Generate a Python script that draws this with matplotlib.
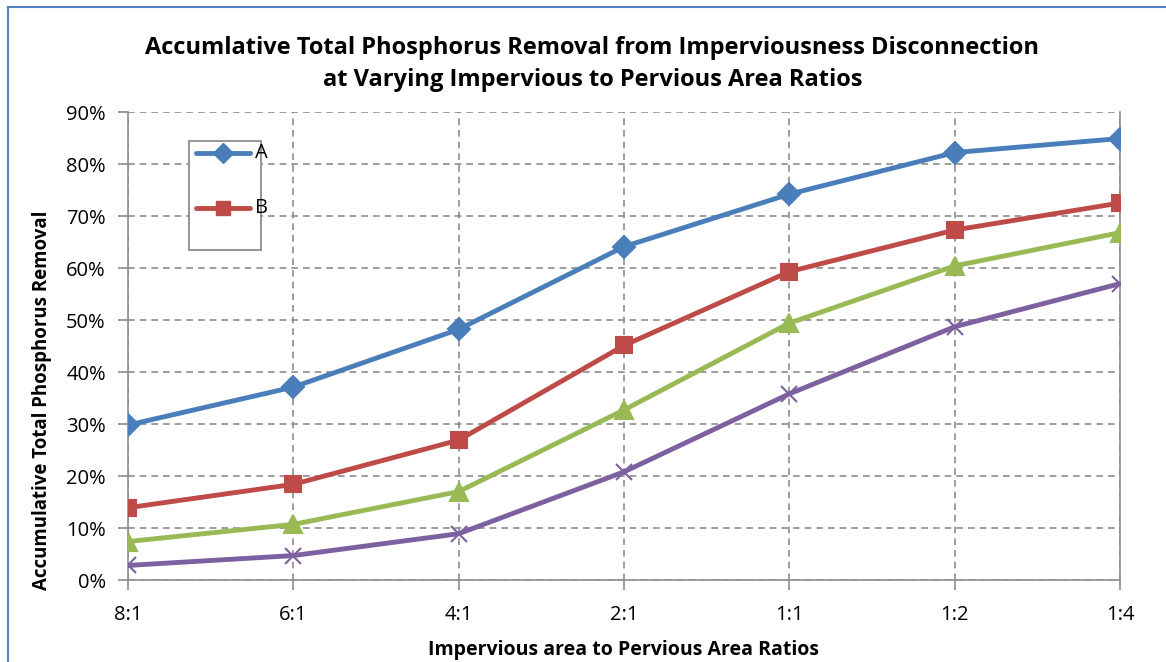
import matplotlib.pyplot as plt
from matplotlib.patches import Rectangle
from matplotlib.ticker import PercentFormatter

ratios = ["8:1", "6:1", "4:1", "2:1", "1:1", "1:2", "1:4"]
series_a = [29.8, 37.1, 48.2, 64.1, 74.2, 82.2, 84.9]
series_b = [13.9, 18.4, 26.9, 45.1, 59.3, 67.3, 72.5]
series_c = [7.4, 10.7, 17.0, 32.7, 49.4, 60.4, 66.8]
series_d = [2.8, 4.7, 8.9, 20.8, 35.8, 48.7, 57.0]

plt.rcParams["font.family"] = ["Open Sans", "DejaVu Sans"]

fig = plt.figure(figsize=(11.66, 6.62), dpi=100)
ax = fig.add_axes([128 / 1166, 1 - 580 / 662, 992 / 1166, 468 / 662])

x = range(len(ratios))
styles = [
    (series_a, "#4A7EBB", "D", 11.5, "A"),
    (series_b, "#BE4B48", "s", 11, "B"),
    (series_c, "#98B954", "^", 12.5, "C"),
    (series_d, "#7D60A0", "x", 12, "D"),
]
for vals, col, mk, ms, lab in styles:
    ax.plot(x, [v / 100 for v in vals], color=col, lw=3.5, marker=mk,
            ms=ms, mew=1.5, label=lab, solid_capstyle="round", zorder=3)

ax.set_xlim(0, len(ratios) - 1)
ax.set_ylim(0, 0.9)
ax.set_yticks([i / 10 for i in range(10)])
ax.yaxis.set_major_formatter(PercentFormatter(1.0, decimals=0))
ax.set_xticks(list(x))
ax.set_xticklabels(ratios)

ax.grid(True, ls=(0, (4, 3)), color="#8c8c8c", lw=1.2)
for side in ["left", "right", "bottom"]:
    ax.spines[side].set_color("#8c8c8c")
    ax.spines[side].set_linewidth(1.2)
ax.spines["top"].set_visible(False)
ax.tick_params(axis="both", colors="#8c8c8c", length=7, width=1.2,
               labelcolor="black", labelsize=14.5)
ax.tick_params(axis="x", pad=11)
ax.tick_params(axis="y", pad=9)

ax.set_xlabel("Impervious area to Pervious Area Ratios", fontsize=14,
              fontweight="bold", labelpad=11)
ax.set_ylabel("Accumulative Total Phosphorus Removal", fontsize=13.4,
              fontweight="bold")
ax.yaxis.set_label_coords(-0.077, 0.385)

fig.text(0.508, 0.903,
         "Accumlative Total Phosphorus Removal from Imperviousness Disconnection\n"
         "at Varying Impervious to Pervious Area Ratios",
         ha="center", va="center", fontsize=17, fontweight="bold",
         linespacing=1.45)

# hand-built legend box showing only the first two series
ax.add_patch(Rectangle((0.0615, 0.705), 0.0725, 0.233, transform=ax.transAxes,
                       fill=True, fc="white", ec="#8c8c8c", lw=1.3,
                       zorder=4, clip_on=False))
for (vals, col, mk, ms, lab), yy in zip(styles[:2], [0.912, 0.795]):
    ax.plot([0.0685, 0.123], [yy, yy], color=col, lw=3.5,
            solid_capstyle="round", transform=ax.transAxes,
            clip_on=False, zorder=5)
    ax.plot([0.0958], [yy], color=col, marker=mk, ms=ms - 1.5,
            transform=ax.transAxes, clip_on=False, zorder=5)
    ax.text(0.1285, yy, lab, transform=ax.transAxes, fontsize=14.5,
            va="center", ha="left", zorder=6)

# outer chart border
fig.patches.append(Rectangle((8 / 1166, -0.1), 1.2, 1.1 - 7 / 662,
                             transform=fig.transFigure, fill=False,
                             ec="#4F81BD", lw=1.5, zorder=0))

fig.savefig("out.png", dpi=100)
